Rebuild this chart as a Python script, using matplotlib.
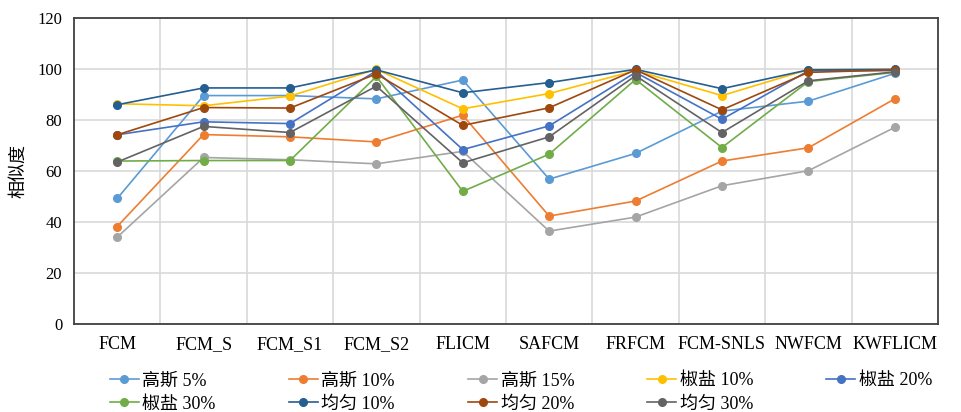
import numpy as np
import matplotlib
matplotlib.use('Agg')
import matplotlib.pyplot as plt

plt.rcParams['font.family'] = ['Liberation Serif', 'Noto Sans CJK SC']
plt.rcParams['font.size'] = 13

methods = ['FCM', 'FCM_S', 'FCM_S1', 'FCM_S2', 'FLICM', 'SAFCM', 'FRFCM',
           'FCM-SNLS', 'NWFCM', 'KWFLICM']

# 相似度 (%) per noise setting
gauss_5 = [49.2, 89.6, 89.6, 88.3, 95.7, 56.8, 66.9, 83.5, 87.4, 98.3]
gauss_10 = [38.2, 74.3, 73.4, 71.4, 81.9, 42.3, 48.2, 63.9, 69.1, 88.3]
gauss_15 = [34.0, 65.3, 64.4, 62.8, 67.7, 36.4, 41.9, 54.2, 60.1, 77.1]
salt_10 = [86.4, 85.6, 89.4, 99.9, 84.4, 90.4, 99.4, 89.6, 99.8, 99.8]
salt_20 = [74.2, 79.3, 78.6, 99.3, 68.4, 77.7, 98.7, 80.3, 99.3, 99.4]
salt_30 = [63.9, 64.1, 64.1, 97.1, 52.0, 66.6, 95.9, 69.2, 95.1, 98.7]
unif_10 = [86.0, 92.6, 92.6, 99.7, 90.7, 94.7, 99.9, 92.3, 99.7, 99.9]
unif_20 = [74.2, 84.9, 84.7, 98.1, 77.9, 84.8, 99.7, 84.0, 98.7, 99.7]
unif_30 = [63.5, 77.5, 75.1, 93.3, 63.2, 73.4, 97.4, 75.1, 95.4, 98.9]

series = [
    ('高斯 5%', gauss_5, '#5B9BD5'),
    ('高斯 10%', gauss_10, '#ED7D31'),
    ('高斯 15%', gauss_15, '#A5A5A5'),
    ('椒盐 10%', salt_10, '#FFC000'),
    ('椒盐 20%', salt_20, '#4472C4'),
    ('椒盐 30%', salt_30, '#70AD47'),
    ('均匀 10%', unif_10, '#255E91'),
    ('均匀 20%', unif_20, '#9E480E'),
    ('均匀 30%', unif_30, '#636363'),
]

fig = plt.figure(figsize=(9.61, 4.12), dpi=100)
ax = fig.add_axes([0.077, 0.214, 0.899, 0.742])

x = np.arange(len(methods))
handles = []
for name, vals, col in series:
    h, = ax.plot(x, vals, color=col, lw=1.2, marker='o', ms=5.5, label=name)
    handles.append(h)

ax.set_xlim(-0.5, len(methods) - 0.5)
ax.set_ylim(0, 120)
ax.set_yticks(np.arange(0, 121, 20))
ax.set_xticks(x)
ax.set_xticklabels(methods)
ax.set_xticks(np.arange(0.5, len(methods) - 0.5, 1), minor=True)
ax.grid(True, which='minor', axis='x', color='#D9D9D9', lw=1.2)
ax.grid(True, which='major', axis='y', color='#D9D9D9', lw=1.2)
ax.set_axisbelow(True)
ax.tick_params(which='both', length=0)
ax.tick_params(axis='y', pad=8.5, labelsize=12)
ax.tick_params(axis='x', pad=9, labelsize=13)
for s in ax.spines.values():
    s.set_color('#404040')
    s.set_linewidth(1.3)
ax.set_ylabel('相似度', labelpad=7)

order = [0, 5, 1, 6, 2, 7, 3, 8, 4]
fig.legend([handles[i] for i in order], [series[i][0] for i in order],
           ncol=5, loc='upper left', bbox_to_anchor=(0.105, 0.118),
           frameon=False, borderpad=0, handlelength=1.6, handletextpad=0.2,
           columnspacing=4.05, labelspacing=0.35)

fig.savefig('out.png', dpi=100)
